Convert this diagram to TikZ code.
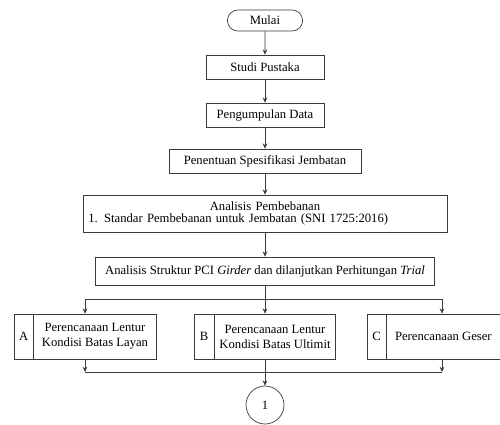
\documentclass[tikz,border=0pt]{standalone}
\usepackage{fontspec}
\setmainfont{Liberation Serif}
\definecolor{garis}{HTML}{3A3A3A}
\usepackage{tikz}
\usetikzlibrary{arrows.meta, positioning, shapes.misc, calc}

\begin{document}
\begin{tikzpicture}[
    blok/.style={draw=garis, line width=0.6pt, rectangle, font=\fontsize{10.8}{12.8}\selectfont},
    isi/.style={font=\fontsize{10.8}{12.8}\selectfont},
    panah/.style={draw=garis, line width=0.6pt, -{Stealth[length=4.5pt, width=4pt]}},
    hubung/.style={draw=garis, line width=0.6pt}
  ]
    \useasboundingbox (0,0) rectangle (15,-12.75);
    % Mulai
    \node[blok, rounded rectangle, minimum width=2.49cm, minimum height=0.63cm]
      (mulai) at (7.95,-0.615) {Mulai};
    % Studi pustaka dan data
    \node[blok, minimum width=3.54cm, minimum height=0.72cm]
      (studi) at (7.95,-2.01) {Studi Pustaka};
    \node[blok, minimum width=3.54cm, minimum height=0.72cm]
      (data) at (7.95,-3.45) {Pengumpulan Data};
    \node[blok, minimum width=5.76cm, minimum height=0.72cm]
      (spek) at (7.95,-4.83) {Penentuan Spesifikasi Jembatan};
    % Analisis pembebanan: baris 1 di tengah, baris 2 rata kiri
    \node[blok, font=\fontsize{10.8}{11}\selectfont, minimum height=1.11cm,
          text width=10.6cm, align=left, inner sep=0.16cm]
      (beban) at (7.95,-6.405)
      {\makebox[\linewidth][c]{Analisis Pembebanan}\\
       1. Standar Pembebanan untuk Jembatan (SNI 1725:2016)};
    \node[blok, minimum width=10.17cm, minimum height=0.84cm]
      (struktur) at (7.95,-8.13)
      {Analisis Struktur PCI \textit{Girder} dan dilanjutkan Perhitungan \textit{Trial}};
    % Cabang A, B, C
    \node[blok, minimum width=4.26cm, minimum height=1.35cm] (A) at (2.55,-10.095) {};
    \node[isi] (A-huruf) at ([xshift=0.3cm]A.west) {A};
    \node[isi, align=center]
      (A-isi) at ([xshift=0.3cm]A.center) {Perencanaan Lentur\\Kondisi Batas Layan};
    \draw[hubung] ([xshift=0.6cm]A.north west) -- ([xshift=0.6cm]A.south west);

    \node[blok, minimum width=4.23cm, minimum height=1.35cm] (B) at (7.95,-10.095) {};
    \node[isi] (B-huruf) at ([xshift=0.3cm]B.west) {B};
    \node[isi, align=center]
      (B-isi) at ([xshift=0.3cm]B.center) {Perencanaan Lentur\\Kondisi Batas Ultimit};
    \draw[hubung] ([xshift=0.6cm]B.north west) -- ([xshift=0.6cm]B.south west);

    \node[blok, minimum width=4.5cm, minimum height=1.35cm] (C) at (13.26,-10.095) {};
    \node[isi] (C-huruf) at ([xshift=0.3cm]C.west) {C};
    \node[isi]
      (C-isi) at (13.3,-10.095) {Perencanaan Geser};
    \draw[hubung] ([xshift=0.6cm]C.north west) -- ([xshift=0.6cm]C.south west);
    % Konektor 1
    \node[blok, circle, minimum size=1.14cm, inner sep=0pt] (satu) at (7.95,-12.15) {1};
    \coordinate (pisah) at (7.95,-8.97);
    \coordinate (gabung) at (7.95,-11.16);
    % Panah
    \draw[panah] (mulai) -- (studi);
    \draw[panah] (studi) -- (data);
    \draw[panah] (data) -- (spek);
    \draw[panah] (spek) -- (beban);
    \draw[panah] (beban) -- (struktur);
    \draw[panah] (struktur) -- (B);
    \draw[panah] (pisah) -| (A.north);
    \draw[panah] (pisah) -| (C.north);
    \draw[panah] (A.south) -- (A.south |- gabung);
    \draw[panah] (C.south) -- (C.south |- gabung);
    \draw[hubung] (A.south |- gabung) -- (C.south |- gabung);
    \draw[panah] (B) -- (satu);
  \end{tikzpicture}
\end{document}
